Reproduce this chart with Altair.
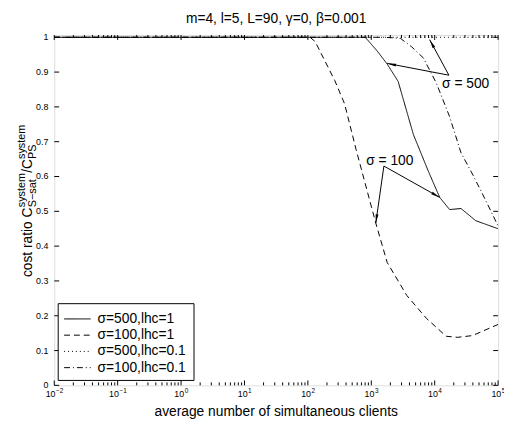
import math
import altair as alt
import pandas as pd

# ---------------- data ----------------
solid_x = [0.01, 803, 1233, 1782, 2655, 4624, 7907, 11995, 17180, 26000, 44460, 100000]
solid_y = [1.0, 1.0, 0.961, 0.923, 0.873, 0.720, 0.616, 0.540, 0.505, 0.508, 0.473, 0.450]

dash_x = [0.01, 108, 130, 265, 379, 575, 1178, 1782, 3640, 7447, 15200, 23100, 39450, 100000]
dash_y = [1.0, 1.0, 0.988, 0.876, 0.809, 0.678, 0.466, 0.353, 0.258, 0.192, 0.141, 0.138, 0.143, 0.175]

dot_x = [0.01, 100000]
dot_y = [1.0, 1.0]

dashdot_x = [0.01, 1580, 2877, 4305, 6607, 10640, 17180, 26000, 39450, 63500, 100000]
dashdot_y = [1.0, 1.0, 0.997, 0.973, 0.941, 0.868, 0.772, 0.668, 0.607, 0.532, 0.458]

series_names = ["σ=500,lhc=1", "σ=100,lhc=1", "σ=500,lhc=0.1", "σ=100,lhc=0.1"]
series_dash = [[1, 0], [6, 4], [1, 3], [6, 3, 1, 3]]

x_major = [0.01, 0.1, 1, 10, 100, 1000, 10000, 100000]
x_exps = ["−2", "−1", "0", "1", "2", "3", "4", "5"]
x_minor = [m * 10 ** k for k in range(-2, 5) for m in range(2, 10)]
y_ticks = [0, 0.1, 0.2, 0.3, 0.4, 0.5, 0.6, 0.7, 0.8, 0.9, 1]
y_tick_labels = ["0", "0.1", "0.2", "0.3", "0.4", "0.5", "0.6", "0.7", "0.8", "0.9", "1"]

# annotations: label, label position, arrow heads
ann_labels = ["σ = 500", "σ = 100"]
ann_lx = [30800, 1963]
ann_ly = [0.865, 0.643]
arrow_tail_x = [16750, 16750, 1581, 1581]
arrow_tail_y = [0.891, 0.891, 0.630, 0.630]
arrow_head_x = [1782, 8337, 1178, 11995]
arrow_head_y = [0.925, 0.993, 0.466, 0.540]

title_text = "m=4, l=5, L=90, γ=0, β=0.001"
xlabel = "average number of simultaneous clients"

# ---------------- layout ----------------
W, H = 451, 356
YMAX = 1.0065
FONT = "Liberation Sans"
TF = 9      # tick label font size
EF = 6.5    # exponent font size

xscale = alt.Scale(type="log", domain=[0.01, 100000], nice=False)
yscale = alt.Scale(domain=[0, YMAX], nice=False, zero=False)


def px(x):
    return (math.log10(x) + 2) / 7 * W


def py(y):
    return H - y / YMAX * H


def inv_x(p):
    return 10 ** (p / W * 7 - 2)


def inv_y(p):
    return (H - p) / H * YMAX


rows = []
for name, xs, ys in [
    (series_names[0], solid_x, solid_y),
    (series_names[1], dash_x, dash_y),
    (series_names[2], dot_x, dot_y),
    (series_names[3], dashdot_x, dashdot_y),
]:
    for i, (a, b) in enumerate(zip(xs, ys)):
        rows.append({"series": name, "x": a, "y": b, "o": i})
df = pd.DataFrame(rows)

lines = alt.Chart(df).mark_line(color="black", strokeWidth=1, clip=True).encode(
    x=alt.X("x:Q", scale=xscale, axis=None),
    y=alt.Y("y:Q", scale=yscale, axis=None),
    strokeDash=alt.StrokeDash(
        "series:N",
        scale=alt.Scale(domain=series_names, range=series_dash),
        legend=None,
    ),
    detail="series:N",
    order="o:Q",
)

# inward tick marks on all four sides
dmaj = pd.DataFrame({"x": x_major})
dmin = pd.DataFrame({"x": x_minor})
dyt = pd.DataFrame({"y": y_ticks, "lab": y_tick_labels})
tick_layers = []
for d, L in [(dmaj, 5), (dmin, 3)]:
    tick_layers.append(
        alt.Chart(d).mark_rule(color="black", strokeWidth=1).encode(
            x=alt.X("x:Q", scale=xscale, axis=None), y=alt.value(H), y2=alt.value(H - L)
        )
    )
    tick_layers.append(
        alt.Chart(d).mark_rule(color="black", strokeWidth=1).encode(
            x=alt.X("x:Q", scale=xscale, axis=None), y=alt.value(0), y2=alt.value(L)
        )
    )
tick_layers.append(
    alt.Chart(dyt).mark_rule(color="black", strokeWidth=1).encode(
        y=alt.Y("y:Q", scale=yscale, axis=None), x=alt.value(0), x2=alt.value(5)
    )
)
tick_layers.append(
    alt.Chart(dyt).mark_rule(color="black", strokeWidth=1).encode(
        y=alt.Y("y:Q", scale=yscale, axis=None), x=alt.value(W), x2=alt.value(W - 5)
    )
)
ylabels = alt.Chart(dyt).mark_text(
    font=FONT, fontSize=TF, color="black", align="right", baseline="middle"
).encode(y=alt.Y("y:Q", scale=yscale, axis=None), x=alt.value(-6), text="lab:N")

# x tick labels "10" with raised exponent, centred as a whole on the tick
xl_rows = []
for v, e in zip(x_major, x_exps):
    w10 = 2 * 0.556 * TF
    we = sum(0.584 if c == "−" else 0.556 for c in e) * EF
    jx = px(v) + (w10 - we) / 2
    xl_rows.append({"x": inv_x(jx), "base": "10", "exp": e})
xldf = pd.DataFrame(xl_rows)
xlab_base = alt.Chart(xldf).mark_text(
    font=FONT, fontSize=TF, color="black", align="right", baseline="alphabetic"
).encode(x=alt.X("x:Q", scale=xscale, axis=None), y=alt.value(H + 12), text="base:N")
xlab_exp = alt.Chart(xldf).mark_text(
    font=FONT, fontSize=EF, color="black", align="left", baseline="alphabetic", dx=0.5
).encode(x=alt.X("x:Q", scale=xscale, axis=None), y=alt.value(H + 8), text="exp:N")

one = pd.DataFrame({"a": [0]})
xtitle = alt.Chart(one).mark_text(
    text=xlabel, font=FONT, fontSize=14, color="black", align="center", baseline="alphabetic"
).encode(x=alt.value(W / 2), y=alt.value(H + 31))
ttl = alt.Chart(one).mark_text(
    text=title_text, font=FONT, fontSize=14, color="black", align="center", baseline="alphabetic"
).encode(x=alt.value(W / 2), y=alt.value(-12))

# arrows
arows = []
HEAD = 9
for tx, ty, hx, hy in zip(arrow_tail_x, arrow_tail_y, arrow_head_x, arrow_head_y):
    x0, y0, x1, y1 = px(tx), py(ty), px(hx), py(hy)
    dx, dy_ = x1 - x0, y1 - y0
    n = math.hypot(dx, dy_)
    ux, uy = dx / n, dy_ / n
    cx, cy = x1 - ux * HEAD / 2, y1 - uy * HEAD / 2
    ang = math.degrees(math.atan2(ux, -uy)) % 360
    arows.append({"x": tx, "y": ty, "x2": hx, "y2": hy,
                  "cx": inv_x(cx), "cy": inv_y(cy), "ang": ang})
adf = pd.DataFrame(arows)

arrow_lines = alt.Chart(adf).mark_rule(color="black", strokeWidth=1).encode(
    x=alt.X("x:Q", scale=xscale, axis=None),
    y=alt.Y("y:Q", scale=yscale, axis=None),
    x2="x2:Q",
    y2="y2:Q",
)
arrow_heads = alt.Chart(adf).mark_point(
    shape="M0,-1L0.32,1L-0.32,1Z", filled=True, color="black", opacity=1, size=HEAD * HEAD
).encode(
    x=alt.X("cx:Q", scale=xscale, axis=None),
    y=alt.Y("cy:Q", scale=yscale, axis=None),
    angle=alt.Angle("ang:Q", scale=None),
)

labdf = pd.DataFrame({"t": ann_labels, "x": ann_lx, "y": ann_ly})
ann_text = alt.Chart(labdf).mark_text(
    font=FONT, fontSize=14, color="black", align="center", baseline="middle"
).encode(
    x=alt.X("x:Q", scale=xscale, axis=None),
    y=alt.Y("y:Q", scale=yscale, axis=None),
    text="t:N",
)

# manual legend box (pixel layout inside the plot area)
LX0, LX1, LY0, LY1 = 4, 142, 273, 351
legend_layers = [
    alt.Chart(one).mark_rect(fill="white", stroke="black", strokeWidth=1).encode(
        x=alt.value(LX0), x2=alt.value(LX1), y=alt.value(LY0), y2=alt.value(LY1)
    )
]
ROW0, ROWSTEP = 288.5, 16.5
for i, (name, dash) in enumerate(zip(series_names, series_dash)):
    yy = ROW0 + i * ROWSTEP
    legend_layers.append(
        alt.Chart(one).mark_rule(color="black", strokeWidth=1, strokeDash=dash).encode(
            x=alt.value(LX0 + 6), x2=alt.value(LX0 + 33), y=alt.value(yy)
        )
    )
    legend_layers.append(
        alt.Chart(one).mark_text(
            text=name, font=FONT, fontSize=14, color="black", align="left", baseline="middle"
        ).encode(x=alt.value(LX0 + 40), y=alt.value(yy))
    )


def ypiece(text, x, y, size):
    return alt.Chart(one).mark_text(
        text=text, font=FONT, fontSize=size, color="black",
        angle=270, align="left", baseline="alphabetic",
    ).encode(x=alt.value(x), y=alt.value(y))


MAIN_X, SUP_X, SUB_X = -23, -30, -19
yt = [
    ypiece("cost ratio C", MAIN_X, 246, 14),
    ypiece("system", SUP_X, 175, 11),
    ypiece("S−sat", SUB_X, 175, 11),
    ypiece("/C", MAIN_X, 140, 14),
    ypiece("system", SUP_X, 126, 11),
    ypiece("PS", SUB_X, 126, 11),
]

chart = alt.layer(
    lines, *tick_layers, ylabels, xlab_base, xlab_exp, xtitle, ttl,
    arrow_lines, arrow_heads, ann_text, *legend_layers, *yt
).properties(
    width=W,
    height=H,
    autosize=alt.AutoSizeParams(type="none"),
    padding={"left": 47, "top": 24, "right": 6, "bottom": 47},
).configure_view(stroke="black", strokeWidth=1).configure(background="white")

chart.save("out.html", embed_options={"renderer": "svg", "actions": False})
